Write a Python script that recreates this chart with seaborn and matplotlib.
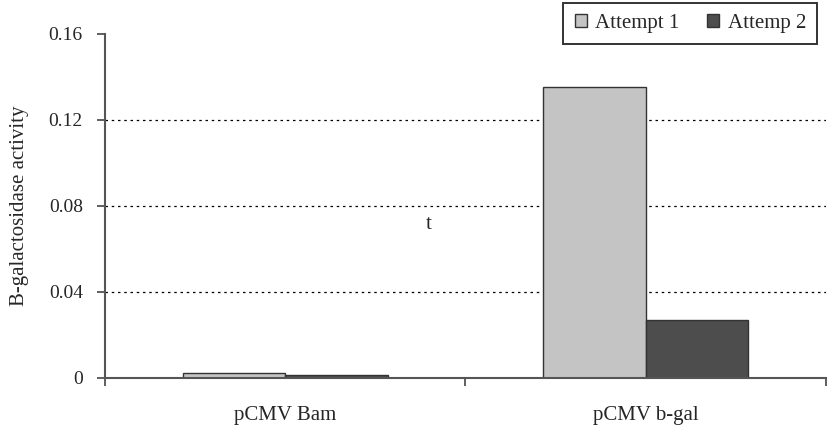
import matplotlib
matplotlib.use("Agg")
import matplotlib.pyplot as plt
import pandas as pd
import seaborn as sns
from matplotlib.ticker import FixedLocator

constructs = ["pCMV Bam", "pCMV b-gal"]
attempt_1 = [0.0022, 0.1355]
attempt_2 = [0.0012, 0.0270]
series_names = ["Attempt 1", "Attemp 2"]
y_ticks = [0, 0.04, 0.08, 0.12, 0.16]
y_tick_labels = ["0", "0.04", "0.08", "0.12", "0.16"]

df = pd.DataFrame({
    "construct": constructs * 2,
    "value": attempt_1 + attempt_2,
    "series": [series_names[0]] * 2 + [series_names[1]] * 2,
})

sns.set_theme(style="white")
plt.rcParams["font.family"] = ["Liberation Serif", "DejaVu Serif"]

fig = plt.figure(figsize=(8.29, 4.25), dpi=100)
ax = fig.add_axes([0.1267, 0.1106, 0.8696, 0.8094])

sns.barplot(
    data=df, x="construct", y="value", hue="series",
    palette=["#c4c4c4", "#4d4d4d"], width=0.57, gap=0,
    edgecolor="#333333", linewidth=1.0, saturation=1, ax=ax,
)

ax.set_xlim(-0.5, 1.5)
ax.set_ylim(0, 0.16)
ax.set_yticks(y_ticks)
ax.set_yticklabels(y_tick_labels, fontsize=14)
for v in y_ticks[1:-1]:
    ax.axhline(v, color="black", linestyle=(0, (2, 3)), linewidth=0.9, zorder=0)

ax.set_xlabel("")
ax.set_ylabel("B-galactosidase activity", fontsize=15, labelpad=14)
ax.tick_params(axis="x", which="major", length=0, labelsize=15, pad=20)
ax.xaxis.set_minor_locator(FixedLocator([-0.5, 0.5, 1.5]))
ax.tick_params(axis="x", which="minor", length=6, width=1.2, color="#444444", bottom=True)
ax.tick_params(axis="y", length=6, width=1.2, color="#444444", left=True, labelsize=14, pad=10)

for side in ["top", "right"]:
    ax.spines[side].set_visible(False)
for side in ["left", "bottom"]:
    ax.spines[side].set_color("#555555")
    ax.spines[side].set_linewidth(1.5)

ax.text(0.397, 0.0712, "t", fontsize=15, ha="center", va="center")

handles, labels = ax.get_legend_handles_labels()
ax.get_legend().remove()
leg = fig.legend(
    handles, labels, loc="upper right", bbox_to_anchor=(0.986, 0.994), ncol=2,
    frameon=True, fontsize=15, handlelength=0.6, handleheight=0.6, handletextpad=0.4,
    columnspacing=1.3, borderpad=0.55, borderaxespad=0, fancybox=False,
)
leg.get_frame().set_edgecolor("black")
leg.get_frame().set_linewidth(1.4)

fig.savefig("out.png", dpi=100)
